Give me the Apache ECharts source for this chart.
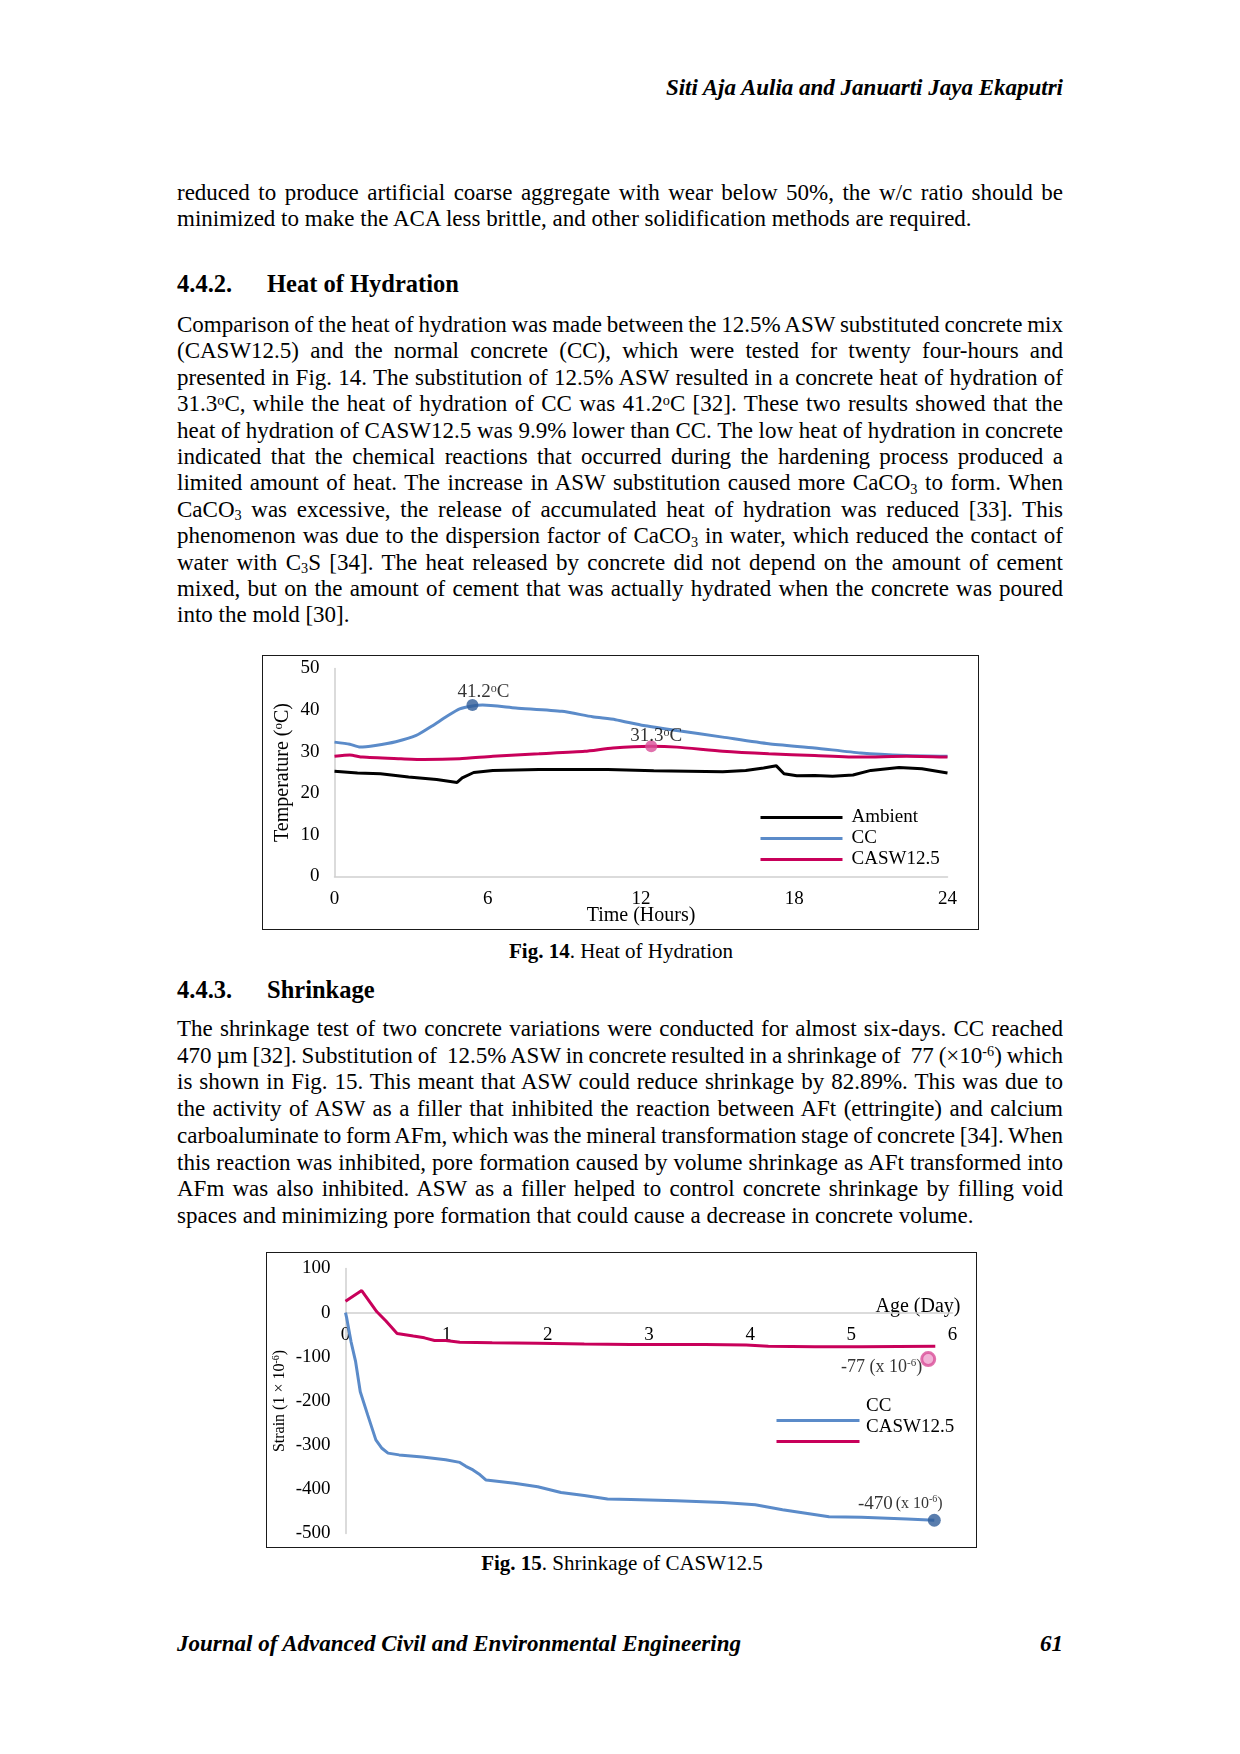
<!DOCTYPE html>
<html>
<head>
<meta charset="utf-8">
<title>Heat of Hydration and Shrinkage</title>
<script src="https://cdn.jsdelivr.net/npm/echarts@6.0.0/dist/echarts.min.js"></script>
<style>
html,body{margin:0;padding:0;background:#fff;}
#page{position:relative;width:1240px;height:1754px;overflow:hidden;font-family:"Liberation Serif","Times New Roman",serif;color:#000;}
.ln{position:absolute;left:177px;width:886px;height:26px;line-height:26px;font-size:23px;white-space:nowrap;}
.ln span{display:inline-block;white-space:nowrap;}
sup{font-size:0.62em;line-height:0;position:relative;top:-0.45em;vertical-align:baseline;}
sub{font-size:0.62em;line-height:0;position:relative;top:0.25em;vertical-align:baseline;}
.hd{position:absolute;font-weight:bold;font-size:24.5px;line-height:26px;height:26px;white-space:nowrap;}
.hf{position:absolute;font-weight:bold;font-style:italic;font-size:23px;line-height:26px;height:26px;white-space:nowrap;}
.cap{position:absolute;left:321px;width:600px;font-size:21px;line-height:24px;height:24px;text-align:center;white-space:nowrap;}
.fig{position:absolute;border:1.5px solid #1a1a1a;background:#fff;}
</style>
</head>
<body>
<div id="page">
  <div class="hf" style="left:177px;width:886px;top:75px;text-align:right;">Siti Aja Aulia and Januarti Jaya Ekaputri</div>

  <div class="hd" style="left:177px;top:271px;">4.4.2.</div>
  <div class="hd" style="left:267px;top:271px;">Heat of Hydration</div>

  <div class="fig" style="left:262px;top:655px;"><div id="c1" style="width:715px;height:273px;"></div></div>
  <div class="cap" style="top:939px;"><b>Fig. 14</b>. Heat of Hydration</div>

  <div class="hd" style="left:177px;top:977px;">4.4.3.</div>
  <div class="hd" style="left:267px;top:977px;">Shrinkage</div>

  <div class="fig" style="left:266px;top:1252px;"><div id="c2" style="width:709px;height:294px;"></div></div>
  <div class="cap" style="top:1551px;left:322px;"><b>Fig. 15</b>. Shrinkage of CASW12.5</div>

  <div class="hf" style="left:177px;top:1631px;">Journal of Advanced Civil and Environmental Engineering</div>
  <div class="hf" style="left:177px;width:886px;top:1631px;text-align:right;">61</div>
</div>

<script>
// ---------- page text (line by line, as in the original) ----------
const para1 = [
  "reduced to produce artificial coarse aggregate with wear below 50%, the w/c ratio should be",
  "minimized to make the ACA less brittle, and other solidification methods are required."
];
const para2 = [
  "Comparison of the heat of hydration was made between the 12.5% ASW substituted concrete mix",
  "(CASW12.5) and the normal concrete (CC), which were tested for twenty four-hours and",
  "presented in Fig. 14. The substitution of 12.5% ASW resulted in a concrete heat of hydration of",
  "31.3<sup>o</sup>C, while the heat of hydration of CC was 41.2<sup>o</sup>C [32]. These two results showed that the",
  "heat of hydration of CASW12.5 was 9.9% lower than CC. The low heat of hydration in concrete",
  "indicated that the chemical reactions that occurred during the hardening process produced a",
  "limited amount of heat. The increase in ASW substitution caused more CaCO<sub>3</sub> to form. When",
  "CaCO<sub>3</sub> was excessive, the release of accumulated heat of hydration was reduced [33]. This",
  "phenomenon was due to the dispersion factor of CaCO<sub>3</sub> in water, which reduced the contact of",
  "water with C<sub>3</sub>S [34]. The heat released by concrete did not depend on the amount of cement",
  "mixed, but on the amount of cement that was actually hydrated when the concrete was poured",
  "into the mold [30]."
];
const para3 = [
  "The shrinkage test of two concrete variations were conducted for almost six-days. CC reached",
  "470 \u00b5m [32]. Substitution of&nbsp; 12.5% ASW in concrete resulted in a shrinkage of&nbsp; 77 (\u00d710<sup>-6</sup>) which",
  "is shown in Fig. 15. This meant that ASW could reduce shrinkage by 82.89%. This was due to",
  "the activity of ASW as a filler that inhibited the reaction between AFt (ettringite) and calcium",
  "carboaluminate to form AFm, which was the mineral transformation stage of concrete [34]. When",
  "this reaction was inhibited, pore formation caused by volume shrinkage as AFt transformed into",
  "AFm was also inhibited. ASW as a filler helped to control concrete shrinkage by filling void",
  "spaces and minimizing pore formation that could cause a decrease in concrete volume."
];

const page = document.getElementById('page');
const TEXT_W = 886;
function addPara(lines, firstCenter, pitch) {
  lines.forEach((t, i) => {
    const d = document.createElement('div');
    d.className = 'ln';
    d.style.top = (firstCenter + i * pitch - 13) + 'px';
    const s = document.createElement('span');
    s.innerHTML = t;
    d.appendChild(s);
    page.appendChild(d);
    if (i < lines.length - 1) {
      const w = s.getBoundingClientRect().width;
      const n = (s.textContent.match(/[ \u00a0]/g) || []).length;
      if (n > 0) s.style.wordSpacing = ((TEXT_W - w) / n) + 'px';
    }
  });
}
addPara(para1, 193, 26);
addPara(para2, 325, 26.4);
addPara(para3, 1029, 26.7);

// ---------- Fig. 14 data : Heat of hydration ----------
const ambientHours = [0, 0.9, 1.8, 2.9, 4.0, 4.8, 5.0, 5.45, 6.2, 8.0, 10.7, 12.5, 15.2, 16.1, 16.8, 17.3, 17.6, 18.1, 18.8, 19.5, 20.3, 21.0, 22.1, 23.0, 24];
const ambientTemp  = [25.3, 24.9, 24.7, 23.9, 23.3, 22.6, 23.7, 25.0, 25.5, 25.7, 25.7, 25.4, 25.2, 25.5, 26.1, 26.6, 24.7, 24.2, 24.3, 24.1, 24.4, 25.5, 26.2, 25.9, 24.9];
const ccHours   = [0, 0.6, 1.0, 1.6, 2.4, 3.2, 3.8, 4.4, 4.9, 5.4, 5.8, 7.1, 8.9, 10.1, 11.0, 12.1, 13.4, 15.2, 17.0, 18.8, 20.6, 22.4, 24];
const ccTemp    = [32.3, 31.8, 31.1, 31.5, 32.4, 33.9, 36.1, 38.5, 40.3, 41.0, 41.2, 40.5, 39.7, 38.4, 37.7, 36.3, 35.1, 33.5, 31.9, 30.9, 29.7, 29.1, 28.9];
const caswHours = [0, 0.6, 1.1, 2.6, 3.5, 4.9, 6.2, 8.0, 9.8, 10.9, 12.4, 13.4, 15.2, 17.0, 18.8, 20.6, 22.4, 24];
const caswTemp  = [28.9, 29.2, 28.7, 28.3, 28.1, 28.3, 28.9, 29.5, 30.1, 30.9, 31.3, 31.1, 30.1, 29.5, 29.1, 28.7, 28.9, 28.7];
const ccPeak   = [5.4, 41.2];
const caswPeak = [12.4, 31.3];
const hourTicks = { min: 0, max: 24, interval: 6 };
const tempTicks = { min: 0, max: 50, interval: 10 };

// ---------- Fig. 15 data : Shrinkage ----------
const ccDays     = [0, 0.01, 0.055, 0.10, 0.146, 0.22, 0.30, 0.36, 0.42, 0.53, 0.76, 0.99, 1.13, 1.19, 1.26, 1.33, 1.39, 1.67, 1.90, 2.13, 2.36, 2.59, 2.82, 3.27, 3.73, 4.05, 4.32, 4.78, 5.10, 5.55, 5.82];
const ccStrain   = [0, -10, -66, -111, -179, -232, -288, -307, -318, -322, -327, -333, -339, -348, -356, -367, -379, -386, -394, -407, -414, -422, -423, -426, -430, -435, -446, -462, -463, -467, -470];
const caswDays   = [0, 0.16, 0.31, 0.40, 0.51, 0.67, 0.78, 0.88, 0.99, 1.13, 1.45, 1.90, 2.36, 2.82, 3.55, 3.96, 4.18, 4.64, 5.10, 5.83];
const caswStrain = [26, 50, 2, -19, -47, -53, -57, -63, -63, -67, -68, -69, -71, -72, -72, -73, -76, -77, -77, -76];
const ccEnd      = [5.82, -470];
const ccEndLabel = -470;
const caswEnd    = [5.76, -105];
const caswEndLabel = -77;
const dayTicks    = { min: 0, max: 6, interval: 1 };
const strainTicks = { min: -500, max: 100, interval: 100 };

const FONT = 'Liberation Serif';
const BLUE = '#5b8bc9', BLUE_DARK = '#2f5d99', PINK = '#c8005a', PINK_MARK = '#d94f98';
const zip = (a, b) => a.map((x, i) => [x, b[i]]);
const axisGray = { color: '#cfcfcf', width: 1.5 };
const LW = 3;

// ---------- Chart 1 ----------
const c1 = echarts.init(document.getElementById('c1'));
c1.setOption({
  animation: false,
  textStyle: { fontFamily: FONT, color: '#000' },
  grid: { left: 71.5, right: 30.5, top: 12.5, bottom: 52.5, containLabel: false, outerBoundsMode: 'none' },
  legend: {
    data: ['Ambient', 'CC', 'CASW12.5'], orient: 'vertical', left: 497.5, top: 152, padding: 0,
    itemGap: 2, itemWidth: 82, itemHeight: 3, icon: 'rect', selectedMode: false,
    textStyle: { fontFamily: FONT, fontSize: 19, lineHeight: 19, color: '#000', padding: [0, 0, 0, 4] }
  },
  xAxis: {
    type: 'value', min: hourTicks.min, max: hourTicks.max, interval: hourTicks.interval,
    name: 'Time (Hours)', nameLocation: 'middle', nameGap: 29, nameMoveOverlap: false,
    nameTextStyle: { fontFamily: FONT, fontSize: 20, color: '#000' },
    axisLine: { show: true, onZero: false, lineStyle: axisGray },
    axisTick: { show: false }, splitLine: { show: false },
    axisLabel: { fontFamily: FONT, fontSize: 19, color: '#000', margin: 13 }
  },
  yAxis: {
    type: 'value', min: tempTicks.min, max: tempTicks.max, interval: tempTicks.interval,
    name: 'Temperature ({s|o}C)', nameLocation: 'middle', nameGap: 42, nameMoveOverlap: false,
    nameTextStyle: { fontFamily: FONT, fontSize: 20, color: '#000', rich: { s: { fontFamily: FONT, fontSize: 13, verticalAlign: 'top', color: '#000' } } },
    axisLine: { show: true, lineStyle: axisGray },
    axisTick: { show: false }, splitLine: { show: false },
    axisLabel: { fontFamily: FONT, fontSize: 19, color: '#000', margin: 15 }
  },
  series: [
    { name: 'Ambient', type: 'line', data: zip(ambientHours, ambientTemp), showSymbol: false, symbol: 'none',
      lineStyle: { color: '#000', width: LW }, itemStyle: { color: '#000' }, emphasis: { disabled: true }, z: 2 },
    { name: 'CC', type: 'line', data: zip(ccHours, ccTemp), showSymbol: false, symbol: 'none', smooth: 0.2,
      lineStyle: { color: BLUE, width: LW }, itemStyle: { color: BLUE }, emphasis: { disabled: true }, z: 2 },
    { name: 'CASW12.5', type: 'line', data: zip(caswHours, caswTemp), showSymbol: false, symbol: 'none', smooth: 0.2,
      lineStyle: { color: PINK, width: LW }, itemStyle: { color: PINK }, emphasis: { disabled: true }, z: 2 },
    { name: 'CC peak', type: 'scatter', data: [ccPeak], symbolSize: 12, itemStyle: { color: BLUE_DARK }, z: 5,
      emphasis: { disabled: true },
      label: { show: true, position: 'inside', offset: [11, -13], fontFamily: FONT, fontSize: 19, color: '#000',
        formatter: p => p.value[1].toFixed(1) + '{s|o}C', rich: { s: { fontFamily: FONT, fontSize: 12, verticalAlign: 'top', color: '#000' } } } },
    { name: 'CASW peak', type: 'scatter', data: [caswPeak], symbolSize: 12, itemStyle: { color: PINK_MARK }, z: 5,
      emphasis: { disabled: true },
      label: { show: true, position: 'inside', offset: [5, -10], fontFamily: FONT, fontSize: 19, color: '#000',
        formatter: p => p.value[1].toFixed(1) + '{s|o}C', rich: { s: { fontFamily: FONT, fontSize: 12, verticalAlign: 'top', color: '#000' } } } }
  ]
});

// ---------- Chart 2 ----------
const supRich = { a: { fontFamily: FONT, fontSize: 19, color: '#000' }, b: { fontFamily: FONT, fontSize: 16, color: '#000' },
                  s: { fontFamily: FONT, fontSize: 10, verticalAlign: 'top', color: '#000' } };
const c2 = echarts.init(document.getElementById('c2'));
c2.setOption({
  animation: false,
  textStyle: { fontFamily: FONT, color: '#000' },
  grid: { left: 78.5, right: 23.5, top: 15.5, bottom: 13.5, containLabel: false, outerBoundsMode: 'none' },
  legend: [
    { // line icons (drawn a little below their labels, as in the original)
      data: ['CC', 'CASW12.5'], orient: 'vertical', left: 509.5, top: 158, padding: 0,
      itemGap: 2, itemWidth: 83, itemHeight: 3, icon: 'rect', selectedMode: false,
      formatter: () => ' ',
      textStyle: { fontFamily: FONT, fontSize: 19, lineHeight: 19, color: '#000' }
    },
    { // labels
      data: ['CC', 'CASW12.5'], orient: 'vertical', left: 594, top: 144, padding: 0,
      itemGap: 2, itemWidth: 0, itemHeight: 3, icon: 'rect', selectedMode: false,
      itemStyle: { opacity: 0 },
      textStyle: { fontFamily: FONT, fontSize: 19, lineHeight: 19, color: '#000' }
    }
  ],
  xAxis: {
    type: 'value', min: dayTicks.min, max: dayTicks.max, interval: dayTicks.interval,
    name: 'Age (Day)', nameLocation: 'end', nameGap: 8, nameMoveOverlap: false,
    nameTextStyle: { fontFamily: FONT, fontSize: 20, color: '#000', align: 'right', verticalAlign: 'bottom', lineHeight: 12 },
    axisLine: { show: true, onZero: false, lineStyle: axisGray },
    axisTick: { show: false }, splitLine: { show: false },
    axisLabel: { fontFamily: FONT, fontSize: 19, color: '#000', margin: 12.5 }
  },
  yAxis: {
    type: 'value', min: strainTicks.min, max: strainTicks.max, interval: strainTicks.interval,
    name: 'Strain (1 \u00d7 10{s|-6})', nameLocation: 'middle', nameGap: 58, nameMoveOverlap: false,
    nameTextStyle: { fontFamily: FONT, fontSize: 16, color: '#000', rich: { s: { fontFamily: FONT, fontSize: 10, verticalAlign: 'top', color: '#000' } } },
    axisLine: { show: true, lineStyle: axisGray },
    axisTick: { show: false }, splitLine: { show: false },
    axisLabel: { fontFamily: FONT, fontSize: 19, color: '#000', margin: 15 }
  },
  series: [
    { name: 'CC', type: 'line', data: zip(ccDays, ccStrain), showSymbol: false, symbol: 'none',
      lineStyle: { color: BLUE, width: LW }, itemStyle: { color: BLUE }, emphasis: { disabled: true }, z: 2 },
    { name: 'CASW12.5', type: 'line', data: zip(caswDays, caswStrain), showSymbol: false, symbol: 'none',
      lineStyle: { color: PINK, width: LW }, itemStyle: { color: PINK }, emphasis: { disabled: true }, z: 2 },
    { name: 'CC end', type: 'scatter', data: [ccEnd], symbolSize: 13, itemStyle: { color: BLUE_DARK }, z: 5,
      emphasis: { disabled: true },
      label: { show: true, position: 'top', distance: 0, offset: [-34, 0],
        formatter: () => '{a|' + ccEndLabel + '} {b|(x 10}{s|-6}{b|)}', rich: supRich } },
    { name: 'CASW end', type: 'scatter', data: [caswEnd], symbolSize: 13,
      itemStyle: { color: '#ee9fcc', borderColor: PINK_MARK, borderWidth: 3 }, z: 5,
      emphasis: { disabled: true },
      label: { show: true, position: 'left', distance: -2, offset: [0, 8],
        formatter: () => '{b|' + caswEndLabel + ' (x 10}{s|-6}{b|)}',
        rich: { b: { fontFamily: FONT, fontSize: 18, color: '#000' }, s: { fontFamily: FONT, fontSize: 11, verticalAlign: 'top', color: '#000' } } } }
  ]
});
// put the day axis (line, labels, name) on the zero-strain line, using the chart's own scale
const yZero = c2.convertToPixel({ yAxisIndex: 0 }, 0);
const yBottom = c2.convertToPixel({ yAxisIndex: 0 }, strainTicks.min);
c2.setOption({ xAxis: { offset: yZero - yBottom } });
</script>
</body>
</html>
